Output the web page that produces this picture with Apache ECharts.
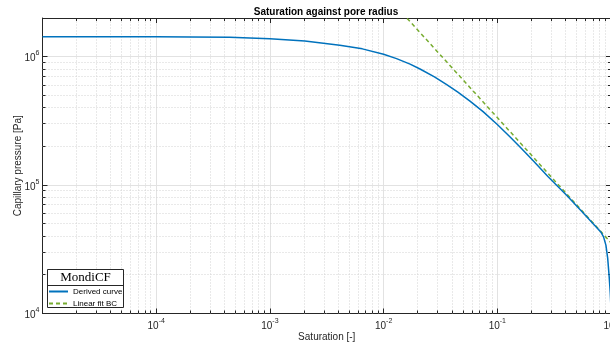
<!DOCTYPE html>
<html>
<head>
<meta charset="utf-8">
<script src="https://cdn.jsdelivr.net/npm/echarts@6/dist/echarts.min.js"></script>
<style>
  html, body { margin: 0; padding: 0; background: #ffffff; }
  #chart { width: 610px; height: 347px; }
</style>
</head>
<body>
<div id="chart"></div>
<script>
// Derived capillary pressure curve (saturation [-] vs pressure [Pa])
const saturation = [1e-5, 3e-5, 1e-4, 2e-4, 4.43e-4, 1e-3, 2.03e-3, 4.12e-3, 6.5e-3, 1e-2,
                    0.013, 0.0171, 0.0209, 0.028, 0.0359, 0.045, 0.0575, 0.075, 0.1, 0.129,
                    0.16, 0.208, 0.28, 0.409, 0.6, 0.7, 0.813, 0.86, 0.902, 0.935,
                    0.964, 0.985, 1.0];
const pressure   = [1.43e6, 1.43e6, 1.428e6, 1.425e6, 1.416e6, 1.38e6, 1.324e6, 1.227e6, 1.15e6, 1.045e6,
                    9.66e5, 8.75e5, 8.01e5, 6.96e5, 6.05e5, 5.3e5, 4.51e5, 3.73e5, 2.96e5, 2.38e5,
                    1.96e5, 1.54e5, 1.16e5, 8.3e4, 5.78e4, 4.98e4, 4.32e4, 3.95e4, 3.41e4, 2.7e4,
                    1.93e4, 1.45e4, 1.1e4];

// Brooks-Corey linear fit (straight line in log-log space), end points
const fitSaturation = [0.01, 1];
const fitPressure   = [3.16e6, 3.56e4];

// Axis ranges and labelled decades
const xRange = [1e-5, 1];
const yRange = [1e4, 2e6];
const xLabelExponents = [-4, -3, -2, -1, 0];
const yLabelExponents = [4, 5, 6];
const minorMantissas = [2, 3, 4, 5, 6, 7, 8, 9];

const FONT = '"Liberation Sans", Arial, Helvetica, sans-serif';
const INK = '#262626';
const MAJOR_GRID = '#e2e2e2';
const MINOR_GRID = '#d2d2d2';

function decadeFormatter(exponents) {
  return function (v) {
    const e = Math.log10(v);
    const r = Math.round(e);
    if (Math.abs(e - r) > 1e-6 || exponents.indexOf(r) < 0) return '';
    return '{b|10}{s|' + r + '}';
  };
}

const labelRich = {
  b: { fontSize: 10, fontFamily: FONT, color: INK, verticalAlign: 'bottom', lineHeight: 14 },
  s: { fontSize: 7, fontFamily: FONT, color: INK, verticalAlign: 'top', lineHeight: 8 }
};

// minor (2..9 x decade) positions for the log grid
const xMinor = [];
for (let d = Math.log10(xRange[0]); d < Math.log10(xRange[1]); d++) {
  minorMantissas.forEach(m => xMinor.push([m * Math.pow(10, d), yRange[0]]));
}
const yMinor = [];
for (let d = Math.log10(yRange[0]); d < Math.log10(yRange[1]); d++) {
  minorMantissas.forEach(m => {
    const v = m * Math.pow(10, d);
    if (v < yRange[1]) yMinor.push([xRange[0], v]);
  });
}

const crisp = v => Math.round(v - 0.5) + 0.5;
const MINOR_TICK = 3;

function renderMinorX(params, api) {
  const v = api.value(0);
  const b = api.coord([v, yRange[0]]);
  const t = api.coord([v, yRange[1]]);
  const x = crisp(b[0]);
  return {
    type: 'group',
    children: [
      { type: 'line', shape: { x1: x, y1: b[1], x2: x, y2: t[1] },
        style: { stroke: MINOR_GRID, lineWidth: 1, lineDash: [1, 2] } },
      { type: 'line', shape: { x1: x, y1: b[1], x2: x, y2: b[1] - MINOR_TICK },
        style: { stroke: INK, lineWidth: 1 } },
      { type: 'line', shape: { x1: x, y1: t[1], x2: x, y2: t[1] + MINOR_TICK },
        style: { stroke: INK, lineWidth: 1 } }
    ]
  };
}

function renderMinorY(params, api) {
  const v = api.value(1);
  const l = api.coord([xRange[0], v]);
  const r = api.coord([xRange[1], v]);
  const y = crisp(l[1]);
  return {
    type: 'group',
    children: [
      { type: 'line', shape: { x1: l[0], y1: y, x2: r[0], y2: y },
        style: { stroke: MINOR_GRID, lineWidth: 1, lineDash: [1, 2] } },
      { type: 'line', shape: { x1: l[0], y1: y, x2: l[0] + MINOR_TICK, y2: y },
        style: { stroke: INK, lineWidth: 1 } },
      { type: 'line', shape: { x1: r[0], y1: y, x2: r[0] - MINOR_TICK, y2: y },
        style: { stroke: INK, lineWidth: 1 } }
    ]
  };
}

const baseAxis = {
  type: 'log',
  logBase: 10,
  axisLine: { show: true, onZero: false, lineStyle: { color: INK, width: 1 } },
  axisTick: { show: true, inside: true, length: 5, lineStyle: { color: INK, width: 1 } },
  minorTick: { show: false },
  minorSplitLine: { show: false }
};

const chart = echarts.init(document.getElementById('chart'), null, { renderer: 'canvas' });

chart.setOption({
  animation: false,
  backgroundColor: '#ffffff',
  title: {
    text: 'Saturation against pore radius',
    left: 321,
    textAlign: 'center',
    top: 2,
    textStyle: { fontFamily: FONT, fontSize: 10, fontWeight: 'bold', color: '#000000' }
  },
  grid: { left: 42.5, right: -1, top: 18, bottom: 33.5, containLabel: false, outerBoundsMode: 'none' },
  xAxis: [
    Object.assign({}, baseAxis, {
      position: 'bottom',
      min: xRange[0], max: xRange[1], splitNumber: 5,
      name: 'Saturation [-]',
      nameLocation: 'middle',
      nameGap: 19,
      nameMoveOverlap: false,
      nameTextStyle: { fontFamily: FONT, fontSize: 10, color: INK },
      axisLabel: { show: true, margin: 4, formatter: decadeFormatter(xLabelExponents), rich: labelRich,
                   showMinLabel: false, hideOverlap: false },
      splitLine: { show: true, lineStyle: { color: MAJOR_GRID, width: 1 } }
    }),
    Object.assign({}, baseAxis, {
      position: 'top',
      min: xRange[0], max: xRange[1], splitNumber: 5,
      axisLabel: { show: false },
      splitLine: { show: false }
    })
  ],
  yAxis: [
    Object.assign({}, baseAxis, {
      position: 'left',
      min: yRange[0], max: yRange[1], splitNumber: 2,
      name: 'Capillary pressure [Pa]',
      nameLocation: 'middle',
      nameGap: 19,
      nameMoveOverlap: false,
      nameTextStyle: { fontFamily: FONT, fontSize: 10, color: INK },
      axisLabel: { show: true, margin: 3, formatter: decadeFormatter(yLabelExponents), rich: labelRich },
      splitLine: { show: true, lineStyle: { color: MAJOR_GRID, width: 1 } }
    }),
    Object.assign({}, baseAxis, {
      position: 'right',
      min: yRange[0], max: yRange[1], splitNumber: 2,
      axisLabel: { show: false },
      splitLine: { show: false }
    })
  ],
  legend: {
    orient: 'vertical',
    left: 48,
    top: 287.5,
    padding: 0,
    itemWidth: 19,
    itemHeight: 8,
    itemGap: 4,
    z: 12,
    data: ['Derived curve', 'Linear fit BC'],
    itemStyle: { opacity: 0 },
    textStyle: { fontFamily: FONT, fontSize: 8, color: '#000000' }
  },
  graphic: [
    { type: 'rect', z: 10, shape: { x: 47.5, y: 269.5, width: 76, height: 38 },
      style: { fill: '#ffffff', stroke: INK, lineWidth: 1 } },
    { type: 'line', z: 11, shape: { x1: 47.5, y1: 285.5, x2: 123.5, y2: 285.5 },
      style: { stroke: INK, lineWidth: 1 } },
    { type: 'text', z: 11, x: 85.5, y: 277.5,
      style: { text: 'MondiCF', fontFamily: '"Liberation Serif", "Times New Roman", serif',
               fontSize: 13, fill: '#000000', align: 'center', verticalAlign: 'middle' } }
  ],
  series: [
    {
      type: 'custom', name: 'minor-x', xAxisIndex: 0, yAxisIndex: 0,
      renderItem: renderMinorX, data: xMinor, silent: true, z: 1, clip: false
    },
    {
      type: 'custom', name: 'minor-y', xAxisIndex: 0, yAxisIndex: 0,
      renderItem: renderMinorY, data: yMinor, silent: true, z: 1, clip: false
    },
    {
      type: 'line', name: 'Derived curve', xAxisIndex: 0, yAxisIndex: 0,
      data: saturation.map((s, i) => [s, pressure[i]]),
      showSymbol: false, symbol: 'none', smooth: false,
      clip: true, z: 4,
      lineStyle: { color: '#0072BD', width: 1.5 },
      itemStyle: { color: '#0072BD' }
    },
    {
      type: 'line', name: 'Linear fit BC', xAxisIndex: 0, yAxisIndex: 0,
      data: fitSaturation.map((s, i) => [s, fitPressure[i]]),
      showSymbol: false, symbol: 'none',
      clip: true, z: 3,
      lineStyle: { color: '#77AC30', width: 1.5, type: [4, 3] },
      itemStyle: { color: '#77AC30' }
    }
  ]
});
</script>
</body>
</html>
